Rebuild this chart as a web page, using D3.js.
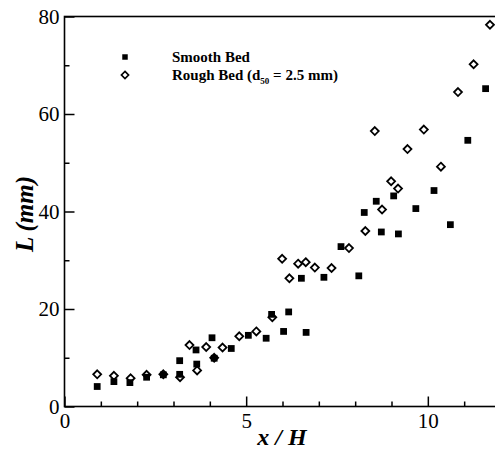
<!DOCTYPE html>
<html>
<head>
<meta charset="utf-8">
<script src="https://cdn.jsdelivr.net/npm/d3@7"></script>
<style>
  html, body { margin: 0; padding: 0; background: #fff; }
  svg { display: block; }
</style>
</head>
<body>
<svg id="chart" width="495" height="452"></svg>
<script>
// values
var smoothX = [0.90, 1.36, 1.80, 2.26, 2.72, 3.17, 3.17, 3.62, 3.64, 4.06, 4.12, 4.59, 5.06, 5.55, 5.70, 6.03,
               6.17, 6.52, 6.65, 7.14, 7.61, 8.10, 8.25, 8.58, 8.72, 9.06, 9.19, 9.67, 10.17, 10.62, 11.10, 11.59];
var smoothY = [4.1, 5.1, 4.9, 6.0, 6.5, 9.4, 6.6, 11.6, 8.7, 14.1, 9.9, 11.9, 14.6, 14.0, 18.9, 15.4,
               19.4, 26.3, 15.2, 26.5, 32.8, 26.8, 39.8, 42.1, 35.8, 43.2, 35.4, 40.6, 44.3, 37.3, 54.6, 65.2];

var roughX = [0.90, 1.36, 1.82, 2.26, 2.72, 3.18, 3.44, 3.65, 3.90, 4.12, 4.35, 4.81, 5.28, 5.72, 5.99, 6.19,
              6.43, 6.64, 6.89, 7.35, 7.83, 8.28, 8.54, 8.74, 8.99, 9.18, 9.44, 9.89, 10.36, 10.83, 11.26, 11.71];
var roughY = [6.6, 6.3, 5.8, 6.5, 6.6, 6.0, 12.6, 7.4, 12.2, 10.0, 12.1, 14.4, 15.4, 18.3, 30.3, 26.3,
              29.3, 29.6, 28.5, 28.4, 32.5, 36.0, 56.5, 40.4, 46.2, 44.7, 52.8, 56.8, 49.2, 64.5, 70.2, 78.3];

var xMajor = [0, 5, 10];
var xMinor = [1, 2, 3, 4, 6, 7, 8, 9, 11];
var yMajor = [0, 20, 40, 60, 80];
var yMinor = [10, 30, 50, 70];

var smooth = smoothX.map((x,i) => ({x: x, y: smoothY[i]}));
var rough = roughX.map((x,i) => ({x: x, y: roughY[i]}));

var margin = {left: 64.5, top: 16.5};
var width = 436, height = 390;
var font = '"Liberation Serif", "Times New Roman", serif';

var svg = d3.select('#chart');
var chart = svg.append('g')
	.attr('transform', 'translate(' + margin.left + ',' + margin.top + ')');

var xScale = d3.scaleLinear().domain([0, 12]).range([0, width]);
var yScale = d3.scaleLinear().domain([0, 80]).range([height, 0]);

// markers
var diamond = d3.symbol().type(d3.symbolDiamond2).size(40);
var square = d3.symbol().type(d3.symbolSquare).size(46);

chart.selectAll('.rough')
	.data(rough)
	.enter()
	.append('path')
	.attr('class', 'rough')
	.attr('d', diamond)
	.attr('transform', d => 'translate(' + xScale(d.x) + ',' + yScale(d.y) + ')')
	.attr('fill', '#fff')
	.attr('stroke', '#000')
	.attr('stroke-width', 1.8);

chart.selectAll('.smooth')
	.data(smooth)
	.enter()
	.append('path')
	.attr('class', 'smooth')
	.attr('d', square)
	.attr('transform', d => 'translate(' + xScale(d.x) + ',' + yScale(d.y) + ')')
	.attr('fill', '#000');

// frame
chart.append('rect')
	.attr('width', width)
	.attr('height', height)
	.attr('fill', 'none')
	.attr('stroke', '#000')
	.attr('stroke-width', 1.6);

// axes, ticks pointing in
function xAxis(vals, len, labels) {
	var ax = d3.axisBottom(xScale).tickValues(vals).tickSizeInner(-len).tickSizeOuter(0).tickPadding(7);
	if (!labels) ax.tickFormat('');
	var g = chart.append('g').attr('transform', 'translate(0,' + height + ')').call(ax);
	g.select('.domain').remove();
	g.selectAll('.tick line').attr('stroke', '#000').attr('stroke-width', 1.5);
	g.selectAll('text').attr('font-family', font).attr('font-size', 21).attr('fill', '#000');
	return g;
}
xAxis(xMinor, 5, false);
xAxis(xMajor, 10, true);

function yAxis(vals, len, labels) {
	var ax = d3.axisLeft(yScale).tickValues(vals).tickSizeInner(-len).tickSizeOuter(0).tickPadding(5);
	if (!labels) ax.tickFormat('');
	var g = chart.append('g').call(ax);
	g.select('.domain').remove();
	g.selectAll('.tick line').attr('stroke', '#000').attr('stroke-width', 1.5);
	g.selectAll('text').attr('font-family', font).attr('font-size', 21).attr('fill', '#000');
	return g;
}
yAxis(yMinor, 5, false);
yAxis(yMajor, 10, true);

// axis titles
svg.append('text')
	.attr('x', 282).attr('y', 445)
	.attr('text-anchor', 'middle')
	.attr('font-family', font).attr('font-size', 24)
	.attr('font-weight', 'bold').attr('font-style', 'italic')
	.text('x / H');

svg.append('text')
	.attr('transform', 'translate(33,214) rotate(-90)')
	.attr('text-anchor', 'middle')
	.attr('font-family', font).attr('font-size', 25)
	.attr('font-weight', 'bold').attr('font-style', 'italic')
	.text('L (mm)');

// legend
var legend = svg.append('g');
legend.append('path')
	.attr('d', d3.symbol().type(d3.symbolSquare).size(30))
	.attr('transform', 'translate(125,57)')
	.attr('fill', '#000');
legend.append('path')
	.attr('d', d3.symbol().type(d3.symbolDiamond2).size(32))
	.attr('transform', 'translate(125,75)')
	.attr('fill', '#fff').attr('stroke', '#000').attr('stroke-width', 1.7);

legend.append('text')
	.attr('x', 172).attr('y', 62)
	.attr('font-family', font).attr('font-size', 15).attr('font-weight', 'bold')
	.text('Smooth Bed');

var t2 = legend.append('text')
	.attr('x', 172).attr('y', 80)
	.attr('font-family', font).attr('font-size', 15).attr('font-weight', 'bold');
t2.append('tspan').text('Rough Bed (d');
t2.append('tspan').attr('font-size', 9).attr('dy', 4).text('50');
t2.append('tspan').attr('dy', -4).text(' = 2.5 mm)');
</script>
</body>
</html>
